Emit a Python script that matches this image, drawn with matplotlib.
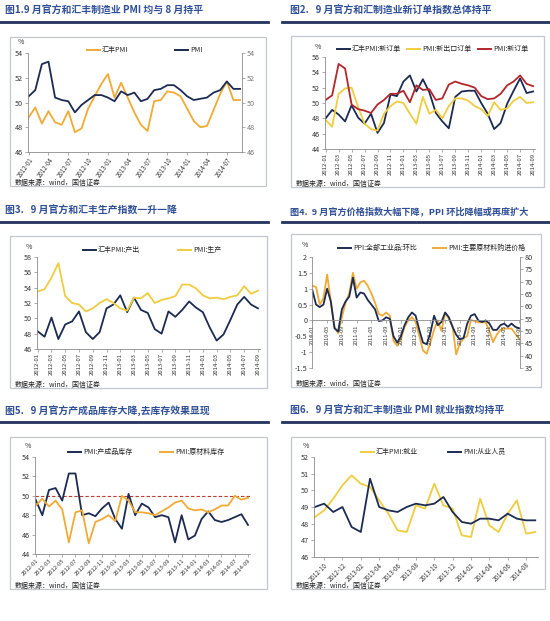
import pandas as pd
import matplotlib
matplotlib.use('Agg')
import matplotlib.pyplot as plt
from matplotlib.lines import Line2D
from matplotlib.patches import Rectangle
from matplotlib.ticker import FuncFormatter

plt.rcParams['font.family'] = ['Noto Sans CJK SC', 'DejaVu Sans']
plt.rcParams['axes.unicode_minus'] = False

W, H = 550, 621

NAVY = '#1c2b52'
ORANGE = '#f0aa35'
YELLOW = '#efcd3f'
RED = '#b3262c'
TITLE_BLUE = '#2f4f96'
RULE = '#22325f'
AXIS_GREY = '#8c8c8c'
BOX_GREY = '#c3c7cf'
SOURCE = '数据来源：wind，国信证券'


def months(start, n):
    return [p.strftime('%Y-%m') for p in pd.period_range(start, periods=n, freq='M')]


# ---- data ----
# fig 1: PMI vs HSBC PMI
m1 = months('2012-01', 33)
hsbc_pmi = [48.8, 49.6, 48.3, 49.3, 48.4, 48.2, 49.3, 47.6, 47.9, 49.5, 50.5, 51.5,
            52.3, 50.4, 51.6, 50.4, 49.2, 48.2, 47.7, 50.1, 50.2, 50.9, 50.8, 50.5,
            49.5, 48.5, 48.0, 48.1, 49.4, 50.7, 51.7, 50.2, 50.2]
pmi = [50.5, 51.0, 53.1, 53.3, 50.4, 50.2, 50.1, 49.2, 49.8, 50.2, 50.6, 50.6,
       50.4, 50.1, 50.9, 50.6, 50.8, 50.1, 50.3, 51.0, 51.1, 51.4, 51.4, 51.0,
       50.5, 50.2, 50.3, 50.4, 50.8, 51.0, 51.7, 51.1, 51.1]

# fig 2: new orders
m2 = months('2012-01', 33)
hsbc_new_orders = [48.0, 49.1, 48.5, 47.6, 49.7, 48.1, 47.3, 48.6, 46.1, 47.4, 51.1,
                   50.9, 52.8, 53.6, 51.5, 53.1, 51.4, 48.7, 47.6, 46.7, 50.8, 51.5,
                   51.6, 51.6, 50.0, 48.6, 46.6, 47.4, 49.9, 51.6, 53.2, 51.3, 51.5]
pmi_export_orders = [47.8, 46.9, 51.2, 51.9, 52.0, 49.5, 47.3, 46.6, 46.4, 48.6, 49.6,
                     50.2, 50.0, 48.6, 47.3, 50.8, 48.6, 49.1, 48.0, 49.6, 50.6, 50.6,
                     50.3, 49.6, 49.2, 48.3, 50.1, 49.1, 49.3, 50.3, 50.8, 50.0, 50.1]
pmi_new_orders = [50.4, 51.0, 55.1, 54.5, 49.8, 49.2, 49.0, 48.7, 49.8, 50.4, 51.2,
                  51.2, 51.6, 50.1, 52.3, 51.7, 51.8, 50.4, 50.6, 52.4, 52.8, 52.5,
                  52.3, 52.0, 50.9, 50.5, 50.6, 51.2, 52.3, 52.8, 53.6, 52.5, 52.2]

# fig 3: output
m3 = months('2012-01', 33)
hsbc_output = [48.3, 47.6, 50.1, 47.3, 49.2, 49.6, 50.9, 48.2, 47.3, 48.2, 51.3,
               51.8, 53.0, 50.8, 52.7, 51.1, 50.7, 48.6, 48.0, 50.9, 50.2, 51.1,
               52.2, 51.4, 50.8, 48.8, 47.1, 47.9, 49.8, 51.8, 52.8, 51.8, 51.3]
pmi_output = [53.5, 53.8, 55.3, 57.2, 52.9, 52.0, 51.8, 50.9, 51.3, 52.0, 52.5,
              52.0, 51.3, 51.0, 52.7, 52.6, 53.3, 52.0, 52.4, 52.6, 52.9, 54.4,
              54.4, 53.9, 53.0, 52.6, 52.7, 52.5, 52.8, 53.0, 54.2, 53.2, 53.6]

# fig 4: prices
m4 = months('2010-01', 57)
ppi_mom = [0.95, 0.5, 0.42, 0.5, 1.0, 0.6, -0.25, -0.35, 0.35, 0.6, 0.75, 1.35,
           0.72, 0.88, 0.85, 0.65, 0.5, 0.35, -0.02, 0.0, 0.1, 0.05, -0.5, -0.7,
           -0.5, -0.15, 0.1, 0.25, 0.15, -0.3, -0.7, -0.75, -0.4, 0.15, -0.15, -0.05,
           0.25, 0.1, -0.2, -0.45, -0.6, -0.55, -0.1, 0.15, 0.2, 0.0, -0.05, 0.0,
           -0.1, -0.3, -0.3, -0.15, -0.1, -0.2, -0.1, -0.2, -0.25]
pmi_input_price = [68.4, 67.8, 60.7, 63.3, 72.9, 62.1, 51.7, 49.1, 55.6, 61.4, 65.2,
                   73.6, 67.1, 69.7, 70.4, 68.4, 65.2, 61.4, 56.9, 56.2, 57.5, 56.2,
                   46.0, 44.0, 46.6, 51.7, 54.3, 55.6, 53.6, 47.9, 42.1, 40.8, 45.3,
                   50.5, 54.3, 50.0, 57.4, 55.0, 52.0, 40.5, 45.0, 47.0, 48.0, 54.5,
                   54.0, 53.5, 53.5, 53.5, 50.0, 45.5, 48.5, 50.5, 51.0, 51.0, 51.0,
                   49.0, 47.0]

# fig 5: inventories
m5 = months('2012-01', 33)
finished_goods = [49.6, 48.0, 50.6, 50.8, 49.5, 52.3, 52.3, 48.0, 48.2, 47.9, 48.7,
                  49.3, 47.6, 46.6, 50.2, 48.0, 49.2, 48.8, 47.8, 48.0, 47.8, 45.2,
                  48.0, 45.5, 45.9, 47.6, 48.4, 47.5, 47.3, 47.5, 47.8, 48.1, 47.0]
raw_materials = [49.0, 49.7, 48.9, 49.5, 48.6, 45.2, 48.3, 48.5, 45.1, 47.3, 47.6,
                 48.0, 47.4, 50.0, 49.5, 48.3, 48.3, 48.2, 48.0, 48.4, 48.8, 49.3,
                 49.5, 48.7, 48.5, 48.6, 48.3, 48.6, 49.0, 49.0, 50.0, 49.6, 49.8]

# fig 6: employment
m6 = months('2012-09', 25)
hsbc_employment = [48.4, 48.8, 49.5, 50.3, 50.9, 50.4, 50.2, 49.4, 48.6, 47.6, 47.5,
                   49.1, 48.9, 50.4, 49.1, 48.9, 47.3, 47.2, 49.5, 47.9, 47.5, 48.6,
                   49.4, 47.4, 47.5]
pmi_employment = [49.0, 49.2, 48.7, 49.0, 47.8, 47.5, 50.7, 49.0, 48.8, 48.7, 49.0,
                  49.2, 49.1, 49.2, 49.6, 48.7, 48.1, 48.0, 48.3, 48.3, 48.2, 48.6,
                  48.3, 48.2, 48.2]


# ---- helpers ----
fig = plt.figure(figsize=(W / 100, H / 100), dpi=100)
fig.patch.set_facecolor('white')


def px_axes(l, t, r, b):
    return fig.add_axes([l / W, 1 - b / H, (r - l) / W, (b - t) / H])


def fx(x):
    return x / W


def fy(y):
    return 1 - y / H


def panel_frame(title, tx, ty, rule_x, box, size=7.1):
    fig.text(fx(tx), fy(ty), title, color=TITLE_BLUE, fontsize=size,
             fontweight='bold', va='center', ha='left')
    fig.add_artist(Line2D([fx(rule_x[0]), fx(rule_x[1])], [fy(ty + 11)] * 2,
                          color=RULE, lw=2.0))
    l, t, r, b = box
    fig.add_artist(Rectangle((fx(l), fy(b)), (r - l) / W, (b - t) / H,
                             transform=fig.transFigure, fill=False,
                             ec=BOX_GREY, lw=0.9))
    fig.text(fx(l + 5), fy(b - 3.5), SOURCE, fontsize=5.0, va='center', ha='left',
             color='#222222')


def legend_item(x, y, color, label, length=13):
    fig.add_artist(Line2D([fx(x), fx(x + length)], [fy(y)] * 2, color=color, lw=1.4))
    fig.text(fx(x + length + 2), fy(y), label, fontsize=5.0, va='center', ha='left',
             color='#222222')


def style(ax, ylim, yticks):
    ax.set_ylim(*ylim)
    ax.set_yticks(yticks)
    ax.set_facecolor('none')
    for s in ['top', 'right']:
        ax.spines[s].set_visible(False)
    for s in ['left', 'bottom']:
        ax.spines[s].set_color(AXIS_GREY)
        ax.spines[s].set_linewidth(0.6)
    ax.tick_params(labelsize=5.2, length=2, width=0.5, color=AXIS_GREY,
                   labelcolor='#333333', pad=1.5)
    ax.tick_params(axis='x', pad=1)
    ax.text(-0.02, 1.07, '%', transform=ax.transAxes, ha='right', va='bottom',
            fontsize=5, color='#333333')


def xlabels(ax, labels, step, start=0, rotation=90, size=4.3):
    idx = list(range(start, len(labels), step))
    ax.set_xticks(idx)
    if rotation == 90:
        ax.set_xticklabels([labels[i] for i in idx], rotation=90, fontsize=size)
    else:
        ax.set_xticklabels([labels[i] for i in idx], rotation=rotation, ha='right',
                           rotation_mode='anchor', fontsize=size)
    ax.set_xlim(-0.1, len(labels) - 0.7)


# ---- figure 1 ----
panel_frame('图1.9 月官方和汇丰制造业 PMI 均与 8 月持平', 5, 11, (0, 268), (10, 37, 266, 186))
ax = px_axes(28, 53, 242, 152)
x = range(len(m1))
ax.plot(x, hsbc_pmi, color=ORANGE, lw=1.3)
ax.plot(x, pmi, color=NAVY, lw=1.3)
style(ax, (46, 54), range(46, 55, 2))
xlabels(ax, m1, 3, rotation=55, size=4.4)
axr = ax.twinx()
axr.set_ylim(46, 54)
axr.set_yticks(range(46, 55, 2))
for s in ['top', 'left', 'bottom']:
    axr.spines[s].set_visible(False)
axr.spines['right'].set_color(AXIS_GREY)
axr.spines['right'].set_linewidth(0.6)
axr.tick_params(labelsize=5.2, length=2, width=0.5, color=AXIS_GREY,
                labelcolor='#777777', pad=1.5)
legend_item(87, 50, ORANGE, '汇丰PMI')
legend_item(175, 50, NAVY, 'PMI')

# ---- figure 2 ----
panel_frame('图2.   9 月官方和汇制造业新订单指数总体持平', 290, 11, (282, 550), (291, 36, 544, 187))
ax = px_axes(325, 57, 535, 149)
x = range(len(m2))
ax.plot(x, hsbc_new_orders, color=NAVY, lw=1.3)
ax.plot(x, pmi_export_orders, color=YELLOW, lw=1.3)
ax.plot(x, pmi_new_orders, color=RED, lw=1.3)
style(ax, (44, 56), range(44, 57, 2))
xlabels(ax, m2, 2)
legend_item(337, 49, NAVY, '汇丰PMI:新订单')
legend_item(407, 49, YELLOW, 'PMI:新出口订单')
legend_item(478, 49, RED, 'PMI:新订单')

# ---- figure 3 ----
panel_frame('图3.   9 月官方和汇丰生产指数一升一降', 5, 211, (0, 268), (10, 236, 267, 388))
ax = px_axes(37, 257, 260, 349)
x = range(len(m3))
ax.plot(x, hsbc_output, color=NAVY, lw=1.3)
ax.plot(x, pmi_output, color=YELLOW, lw=1.3)
style(ax, (46, 58), range(46, 59, 2))
xlabels(ax, m3, 2)
legend_item(83, 250, NAVY, '汇丰PMI:产出')
legend_item(178, 250, YELLOW, 'PMI:生产')

# ---- figure 4 ----
panel_frame('图4.  9 月官方价格指数大幅下降，PPI 环比降幅或再度扩大', 290, 211, (282, 550),
            (291, 234, 541, 387), size=6.6)
ax = px_axes(312, 257, 520, 368)
axr = ax.twinx()
x = range(len(m4))
axr.plot(x, pmi_input_price, color=ORANGE, lw=1.3)
ax.plot(x, ppi_mom, color=NAVY, lw=1.3)
ax.set_zorder(axr.get_zorder() + 1)
style(ax, (-1.5, 2), [-1.5, -1, -0.5, 0, 0.5, 1, 1.5, 2])
ax.yaxis.set_major_formatter(FuncFormatter(lambda v, p: f'{v:g}'))
ax.spines['bottom'].set_position(('data', 0))
xlabels(ax, m4, 4, size=4.0)
axr.set_ylim(35, 80)
axr.set_yticks(range(35, 81, 5))
for s in ['top', 'left', 'bottom']:
    axr.spines[s].set_visible(False)
axr.spines['right'].set_color(AXIS_GREY)
axr.spines['right'].set_linewidth(0.6)
axr.tick_params(labelsize=5.2, length=2, width=0.5, color=AXIS_GREY,
                labelcolor='#333333', pad=1.5)
legend_item(338, 248, NAVY, 'PPI:全部工业品:环比')
legend_item(433, 248, ORANGE, 'PMI:主要原材料购进价格')

# ---- figure 5 ----
panel_frame('图5.   9 月官方产成品库存大降,去库存效果显现', 5, 411, (0, 268), (10, 437, 267, 589))
ax = px_axes(35, 457, 250, 554)
x = range(len(m5))
ax.axhline(50, color='#c0392b', ls=(0, (3, 2)), lw=0.8)
ax.plot(x, finished_goods, color=NAVY, lw=1.3)
ax.plot(x, raw_materials, color=ORANGE, lw=1.3)
style(ax, (44, 54), range(44, 55, 2))
xlabels(ax, m5, 2, rotation=45, size=4.2)
legend_item(68, 452, NAVY, 'PMI:产成品库存')
legend_item(160, 452, ORANGE, 'PMI:原材料库存')

# ---- figure 6 ----
panel_frame('图6.   9 月官方和汇丰制造业 PMI 就业指数均持平', 290, 411, (282, 550),
            (291, 437, 545, 589))
ax = px_axes(314, 457, 538, 557)
x = range(len(m6))
ax.plot(x, hsbc_employment, color=YELLOW, lw=1.3)
ax.plot(x, pmi_employment, color=NAVY, lw=1.3)
style(ax, (46, 52), range(46, 53))
xlabels(ax, m6, 2, start=1, rotation=45, size=4.5)
legend_item(361, 452, YELLOW, '汇丰PMI:就业')
legend_item(448, 452, NAVY, 'PMI:从业人员')

fig.savefig('out.png', dpi=100, facecolor='white')
